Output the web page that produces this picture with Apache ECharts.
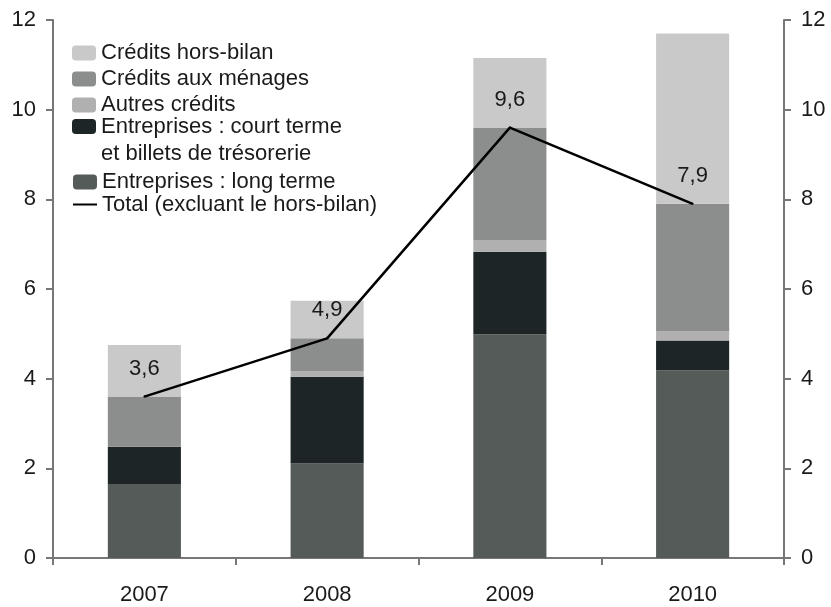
<!DOCTYPE html>
<html>
<head>
<meta charset="utf-8">
<script src="https://cdn.jsdelivr.net/npm/echarts@6/dist/echarts.min.js"></script>
<style>
  html, body { margin: 0; padding: 0; background: #fff; }
  #chart { width: 831px; height: 607px; }
</style>
</head>
<body>
<div id="chart"></div>
<script>
const years = ['2007', '2008', '2009', '2010']
const longTerme  = [1.65, 2.11, 4.99, 4.19]
const courtTerme = [0.83, 1.93, 1.84, 0.66]
const autres     = [0.00, 0.12, 0.25, 0.20]
const menages    = [1.12, 0.74, 2.52, 2.85]
const horsBilan  = [1.15, 0.84, 1.55, 3.80]
const total      = [3.6, 4.9, 9.6, 7.9]
const yTicks = [0, 2, 4, 6, 8, 10, 12]

const FONT = '"Liberation Sans", Arial, sans-serif'
const AXIS = { lineStyle: { color: '#777', width: 2 } }

const names = {
  hb: 'Crédits hors-bilan',
  men: 'Crédits aux ménages',
  aut: 'Autres crédits',
  ct: 'Entreprises : court terme et billets de trésorerie',
  lt: 'Entreprises : long terme',
  tot: 'Total (excluant le hors-bilan)',
}

function yAxis(pos) {
  return {
    type: 'value', position: pos, min: yTicks[0], max: yTicks[yTicks.length - 1], interval: 2,
    axisLine: { show: true, ...AXIS },
    axisTick: { show: true, length: 7, lineStyle: { color: '#777', width: 2 } },
    splitLine: { show: false },
    axisLabel: { color: '#1a1a1a', fontSize: 22, fontFamily: FONT, margin: 17 },
  }
}

function bar(name, data, color) {
  return { name, type: 'bar', stack: 'tot', data, barWidth: '40%',
    itemStyle: { color }, emphasis: { disabled: true } }
}

const legendBase = {
  orient: 'vertical', left: 72, padding: 0, itemWidth: 24, itemHeight: 15,
  textStyle: { color: '#1a1a1a', fontSize: 22, fontFamily: FONT },
  itemGap: 4, selectedMode: false,
}

const chart = echarts.init(document.getElementById('chart'), null, { renderer: 'canvas' })
chart.setOption({
  backgroundColor: '#fff',
  animation: false,
  grid: { left: 53, right: 47, top: 20, bottom: 49 },
  legend: [
    { ...legendBase, top: 42, data: [names.hb, names.men, names.aut] },
    // empty first line so the swatch lines up with "Entreprises : court terme"
    { ...legendBase, top: 86, data: [names.ct],
      formatter: () => ' \nEntreprises : court terme\net billets de trésorerie',
      textStyle: { ...legendBase.textStyle, lineHeight: 27 } },
    { ...legendBase, top: 171, itemGap: 0.5,
      data: [names.lt, { name: names.tot, itemStyle: { opacity: 0 } }] },
  ],
  xAxis: {
    type: 'category', data: years,
    axisLine: AXIS,
    axisTick: { show: true, length: 7, lineStyle: { color: '#777', width: 2 } },
    axisLabel: { color: '#1a1a1a', fontSize: 22, fontFamily: FONT, margin: 26 },
  },
  yAxis: [yAxis('left'), yAxis('right')],
  series: [
    bar(names.lt, longTerme, '#555b59'),
    bar(names.ct, courtTerme, '#1e2526'),
    bar(names.aut, autres, '#b0b0b0'),
    bar(names.men, menages, '#8c8e8d'),
    bar(names.hb, horsBilan, '#c9c9c9'),
    { name: names.tot, type: 'line', data: total, symbol: 'circle', symbolSize: 2, z: 5,
      lineStyle: { color: '#000', width: 2.5 }, itemStyle: { color: '#000' },
      label: { show: true, position: 'top', distance: 16, color: '#1a1a1a', fontSize: 22, fontFamily: FONT,
        formatter: p => String(p.value).replace('.', ',') } },
  ],
})
</script>
</body>
</html>
